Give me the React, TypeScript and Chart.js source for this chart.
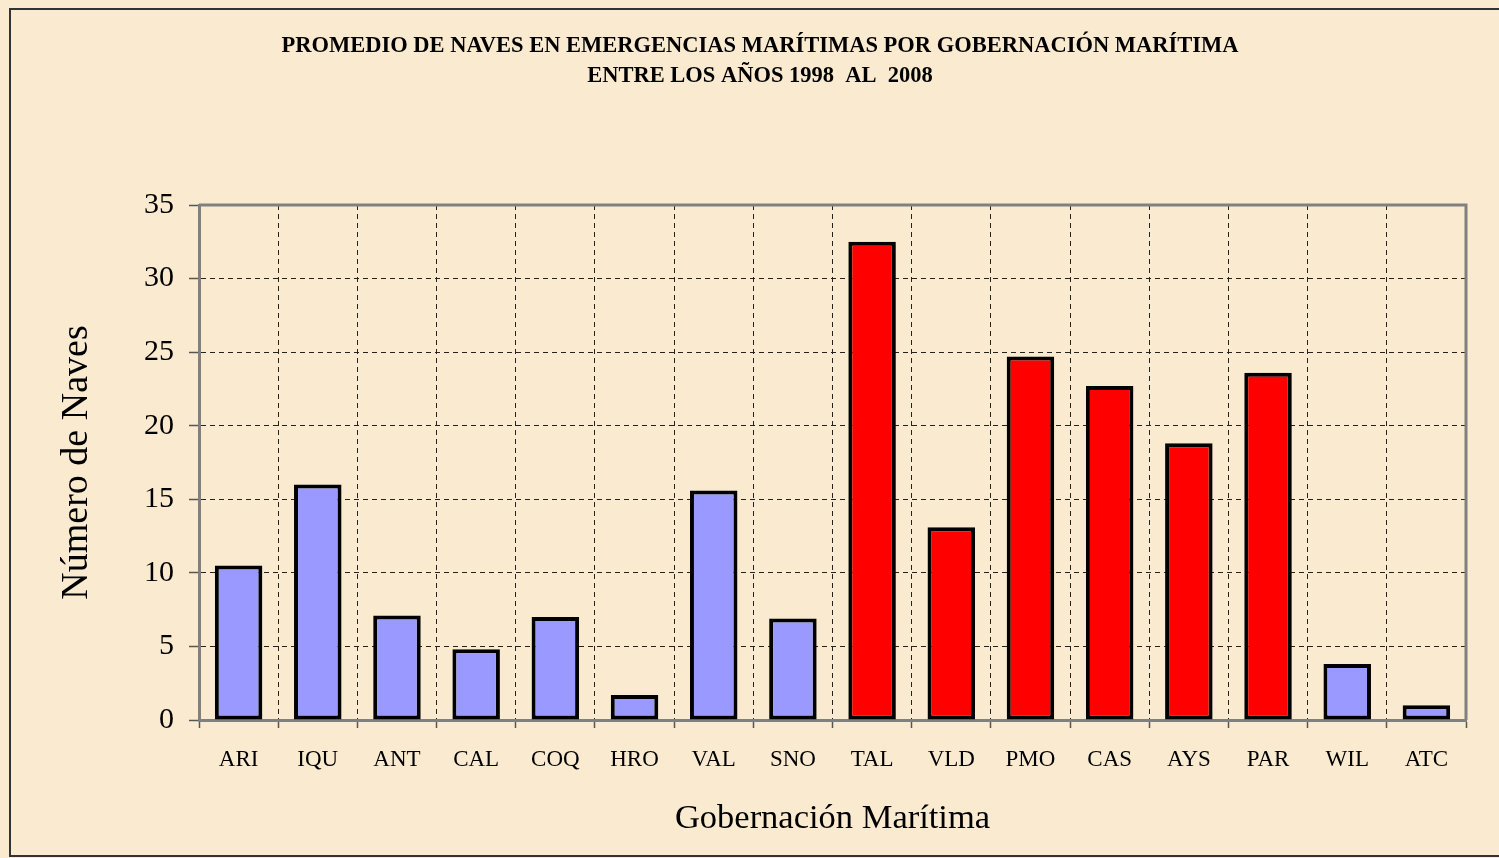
import React, { useEffect, useRef } from "react";
import { Chart, registerables } from "chart.js";

Chart.register(...registerables);

const categories = ["ARI", "IQU", "ANT", "CAL", "COQ", "HRO", "VAL", "SNO", "TAL", "VLD", "PMO", "CAS", "AYS", "PAR", "WIL", "ATC"];
const promedioNaves = [10.5, 16.0, 7.1, 4.8, 7.0, 1.7, 15.6, 6.9, 32.5, 13.1, 24.7, 22.7, 18.8, 23.6, 3.8, 1.0];
const redCategories = ["TAL", "VLD", "PMO", "CAS", "AYS", "PAR"];
const yTicks = [0, 5, 10, 15, 20, 25, 30, 35];
const titleLines = ["PROMEDIO DE NAVES EN EMERGENCIAS MARÍTIMAS POR GOBERNACIÓN MARÍTIMA", "ENTRE LOS AÑOS 1998  AL  2008"];
const xTitle = "Gobernación Marítima";
const yTitle = "Número de Naves";

const FONT = "'Liberation Serif', 'DejaVu Serif', serif";

const backgroundPlugin = {
  id: "parchment",
  beforeDraw(chart: any) {
    const { ctx, width, height } = chart;
    ctx.save();
    ctx.fillStyle = "#FAEBD0";
    ctx.fillRect(0, 0, width, height);
    ctx.strokeStyle = "#333333";
    ctx.lineWidth = 2;
    ctx.beginPath();
    ctx.moveTo(width, 9);
    ctx.lineTo(10, 9);
    ctx.lineTo(10, 856);
    ctx.lineTo(width, 856);
    ctx.stroke();
    ctx.restore();
  },
  beforeDatasetsDraw(chart: any) {
    const { ctx, chartArea } = chart;
    ctx.save();
    ctx.strokeStyle = "#808080";
    ctx.lineWidth = 3;
    ctx.beginPath();
    ctx.moveTo(chartArea.left, chartArea.top);
    ctx.lineTo(chartArea.right, chartArea.top);
    ctx.lineTo(chartArea.right, chartArea.bottom);
    ctx.stroke();
    ctx.restore();
  },
};

export default function App() {
  const ref = useRef<HTMLCanvasElement>(null);

  useEffect(() => {
    if (!ref.current) return;
    const chart = new Chart(ref.current, {
      type: "bar",
      data: {
        labels: categories,
        datasets: [
          {
            label: yTitle,
            data: promedioNaves,
            backgroundColor: categories.map((c) => (redCategories.includes(c) ? "#FF0000" : "#9999FF")),
            borderColor: "#000000",
            borderWidth: 4,
            borderSkipped: false,
            categoryPercentage: 1,
            barPercentage: 0.6,
          },
        ],
      },
      options: {
        animation: false,
        responsive: true,
        maintainAspectRatio: false,
        layout: { padding: { left: 54, right: 33, top: 0, bottom: 0 } },
        plugins: {
          legend: { display: false },
          tooltip: { enabled: false },
          title: {
            display: true,
            text: titleLines,
            color: "#000000",
            font: { family: FONT, size: 22.5, weight: "bold", lineHeight: 30 / 22.5 },
            padding: { top: 31, bottom: 114 },
          },
        },
        scales: {
          x: {
            type: "category",
            offset: true,
            afterFit: (s: any) => {
              s.height = 138;
            },
            grid: {
              display: true,
              offset: true,
              color: "#222222",
              lineWidth: 1,
              drawTicks: true,
              tickLength: 8,
              tickColor: "#555555",
              tickWidth: 1.5,
            },
            border: { display: true, color: "#808080", width: 3, dash: [5, 4] },
            ticks: {
              color: "#000000",
              font: { family: FONT, size: 23 },
              padding: 18,
              maxRotation: 0,
              autoSkip: false,
            },
            title: {
              display: true,
              text: xTitle,
              color: "#000000",
              font: { family: FONT, size: 34.5 },
              padding: { top: 0, bottom: 18 },
            },
          },
          y: {
            type: "linear",
            min: 0,
            max: 35,
            afterFit: (s: any) => {
              s.width = 145;
            },
            afterBuildTicks: (s: any) => {
              s.ticks = yTicks.map((v) => ({ value: v }));
            },
            grid: {
              display: true,
              color: "#222222",
              lineWidth: 1,
              drawTicks: true,
              tickLength: 10,
              tickColor: "#555555",
              tickWidth: 1.5,
            },
            border: { display: true, color: "#808080", width: 3, dash: [5, 4] },
            ticks: {
              color: "#000000",
              font: { family: FONT, size: 30 },
              padding: 15,
            },
            title: {
              display: true,
              text: yTitle,
              color: "#000000",
              font: { family: FONT, size: 38 },
              padding: { top: 0, bottom: 0 },
            },
          },
        },
      },
      plugins: [backgroundPlugin],
    });
    return () => chart.destroy();
  }, []);

  return (
    <div style={{ position: "fixed", left: 0, top: 0, width: "1499px", height: "858px" }}>
      <canvas ref={ref} />
    </div>
  );
}
